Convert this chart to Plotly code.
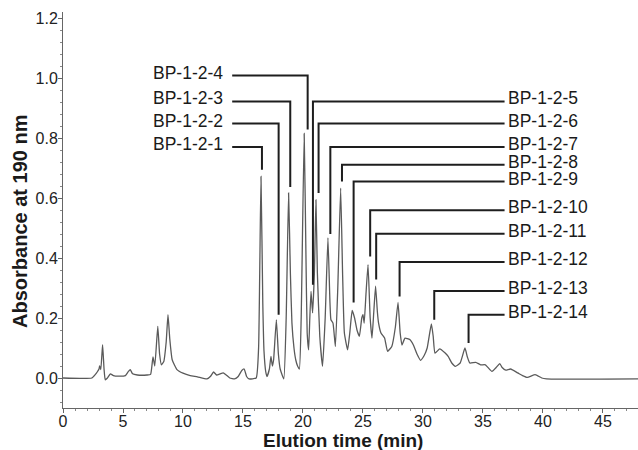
import plotly.graph_objects as go

# ---- chromatogram trace ----
time_min = [0.0, 2.4, 2.7, 2.85, 3.0, 3.05, 3.15, 3.3, 3.42, 3.52, 3.7, 3.95, 4.2, 4.6, 5.2, 5.45,
            5.6, 5.8, 6.2, 7.0, 7.3, 7.5, 7.65, 7.9, 8.05, 8.2, 8.4, 8.6, 8.75, 8.9, 9.1, 9.5,
            10.0, 10.6, 11.2, 12.0, 12.3, 12.55, 12.8, 13.1, 13.35, 13.6, 13.9, 14.3, 14.6, 14.9,
            15.1, 15.3, 15.5, 16.1, 16.3, 16.5, 16.65, 16.75, 16.9, 17.0, 17.2, 17.33, 17.45, 17.55,
            17.78, 17.95, 18.1, 18.4, 18.6, 18.8, 18.95, 19.08, 19.25, 19.4, 19.55, 19.7, 19.85,
            20.1, 20.25, 20.35, 20.47, 20.57, 20.67, 20.8, 20.95, 21.08, 21.2, 21.4, 21.63, 21.85,
            22.08, 22.25, 22.33, 22.5, 22.7, 22.9, 23.14, 23.3, 23.45, 23.72, 23.9, 24.1, 24.3,
            24.5, 24.7, 24.9, 25.0, 25.1, 25.25, 25.42, 25.6, 25.75, 25.9, 26.05, 26.2, 26.3, 26.5,
            26.8, 27.05, 27.4, 27.7, 27.92, 28.1, 28.25, 28.5, 28.9, 29.2, 29.5, 29.8, 30.1, 30.35,
            30.7, 30.85, 31.0, 31.4, 31.85, 32.1, 32.4, 32.7, 33.1, 33.5, 33.7, 33.9, 34.4, 34.8,
            35.2, 35.75, 36.1, 36.4, 36.6, 36.9, 37.3, 37.9, 38.3, 38.7, 39.35, 39.9, 40.3, 48.0]
absorbance = [0.0, 0.0, 0.012, 0.02, 0.03, 0.04, 0.028, 0.111, 0.03, -0.006, 0.0, 0.014, 0.008, 0.006, 0.008, 0.022,
              0.028, 0.014, 0.01, 0.01, 0.012, 0.07, 0.04, 0.172, 0.08, 0.044, 0.055, 0.12, 0.211, 0.13, 0.061, 0.028,
              0.016, 0.008, 0.004, -0.003, 0.006, 0.02, 0.01, 0.014, 0.017, 0.01, 0.0, -0.003, 0.005, 0.025,
              0.03, 0.005, -0.003, 0.0, 0.1, 0.672, 0.25, 0.09, 0.02, 0.005, 0.03, 0.072, 0.04, 0.06,
              0.194, 0.08, 0.03, -0.003, 0.2, 0.617, 0.35, 0.183, 0.1, 0.06, 0.04, 0.03, 0.2,
              0.815, 0.4, 0.15, 0.094, 0.2, 0.289, 0.217, 0.35, 0.594, 0.35, 0.139, 0.039, 0.2,
              0.467, 0.25, 0.194, 0.183, 0.105, 0.3, 0.633, 0.35, 0.15, 0.094, 0.15, 0.225, 0.2,
              0.16, 0.139, 0.2, 0.211, 0.183, 0.28, 0.378, 0.2, 0.133, 0.22, 0.306, 0.22, 0.183, 0.15,
              0.133, 0.089, 0.105, 0.17, 0.252, 0.15, 0.11, 0.133, 0.128, 0.11, 0.08, 0.059, 0.075, 0.1,
              0.18, 0.14, 0.083, 0.097, 0.083, 0.072, 0.05, 0.039, 0.05, 0.1, 0.07, 0.05, 0.052, 0.044,
              0.044, 0.022, 0.035, 0.048, 0.035, 0.026, 0.03, 0.017, 0.008, 0.002, 0.011, 0.0, -0.003, -0.003]

# ---- peak labels ----
peak_labels = ["BP-1-2-1", "BP-1-2-2", "BP-1-2-3", "BP-1-2-4", "BP-1-2-5", "BP-1-2-6", "BP-1-2-7",
               "BP-1-2-8", "BP-1-2-9", "BP-1-2-10", "BP-1-2-11", "BP-1-2-12", "BP-1-2-13", "BP-1-2-14"]
leader_time = [16.58, 17.97, 18.94, 20.39, 20.83, 21.3, 22.28, 23.25, 24.22, 25.6, 26.1, 28.05, 30.94, 33.8]
leader_tip = [0.694, 0.211, 0.637, 0.828, 0.311, 0.617, 0.48, 0.655, 0.252, 0.405, 0.328, 0.272, 0.194, 0.117]
label_level = [0.77, 0.848, 0.922, 1.008, 0.922, 0.848, 0.77, 0.711, 0.655, 0.559, 0.481, 0.387, 0.29, 0.211]
label_side = ["L", "L", "L", "L", "R", "R", "R", "R", "R", "R", "R", "R", "R", "R"]

LEFT_END = 14.1     # where left-side horizontal leaders start
RIGHT_END = 36.8    # where right-side horizontal leaders end
LEFT_TEXT = 13.52
RIGHT_TEXT = 36.95

FONT = "Liberation Sans, Arial, Helvetica, sans-serif"

fig = go.Figure()
fig.add_trace(go.Scatter(x=time_min, y=absorbance, mode="lines",
                         line=dict(color="#5a5a5a", width=1.3, shape="spline", smoothing=0.4),
                         hoverinfo="skip", showlegend=False))

lx, ly = [], []
annotations = []
for name, t, tip, lev, side in zip(peak_labels, leader_time, leader_tip, label_level, label_side):
    end = LEFT_END if side == "L" else RIGHT_END
    lx += [end, t, t, None]
    ly += [lev, lev, tip, None]
    annotations.append(dict(x=LEFT_TEXT if side == "L" else RIGHT_TEXT, y=lev, xref="x", yref="y",
                            text=name, showarrow=False, xanchor="right" if side == "L" else "left",
                            yanchor="middle", yshift=3,
                            font=dict(family=FONT, size=17.5, color="#1a1a1a")))
fig.add_trace(go.Scatter(x=lx, y=ly, mode="lines", line=dict(color="#1e1e1e", width=2),
                         hoverinfo="skip", showlegend=False))

annotations.append(dict(x=-0.075, y=0.472, xref="paper", yref="paper", text="<b>Absorbance at 190 nm</b>",
                        textangle=-90, showarrow=False, xanchor="center", yanchor="middle",
                        font=dict(family=FONT, size=20, color="#1a1a1a")))
annotations.append(dict(x=0.487, y=-0.083, xref="paper", yref="paper", text="<b>Elution time (min)</b>",
                        showarrow=False, xanchor="center", yanchor="middle",
                        font=dict(family=FONT, size=19, color="#1a1a1a")))

fig.update_layout(
    width=638, height=450,
    margin=dict(l=63, r=0, t=12, b=42),
    paper_bgcolor="white", plot_bgcolor="white",
    annotations=annotations,
    font=dict(family=FONT, size=16, color="#222"),
    xaxis=dict(range=[0, 47.92], tickmode="linear", tick0=0, dtick=5, ticks="outside", ticklen=4,
               tickcolor="#666", showline=True, linecolor="#666", linewidth=1, showgrid=False,
               zeroline=False, tickfont=dict(size=16, color="#222"), ticklabelstandoff=-5,
               minor=dict(dtick=1, ticks="outside", ticklen=2, tickcolor="#888")),
    yaxis=dict(range=[-0.1, 1.22], tickmode="linear", tick0=0, dtick=0.2, tickformat=".1f",
               ticks="outside", ticklen=4, tickcolor="#666", showline=True, linecolor="#666",
               linewidth=1, showgrid=False, zeroline=False, tickfont=dict(size=16, color="#222"),
               ticklabelstandoff=-3,
               minor=dict(dtick=0.04, ticks="outside", ticklen=2, tickcolor="#888")),
)

fig.write_html("out.html", post_script="document.body.style.margin='0px';",
               config={"displayModeBar": False})
